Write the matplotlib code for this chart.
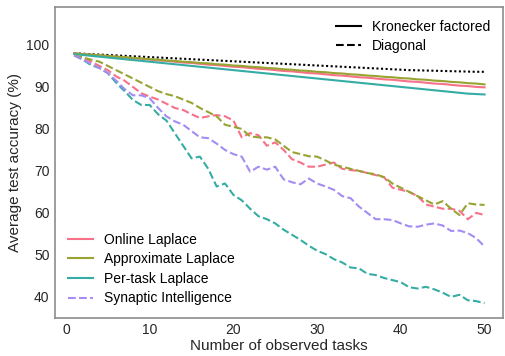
import matplotlib
matplotlib.use("Agg")
import matplotlib.pyplot as plt
from matplotlib.lines import Line2D

tasks = list(range(1, 51))

# Kronecker factored (solid)
online_kf = [98.0, 97.8, 97.7, 97.5, 97.3, 97.2, 97.0, 96.8, 96.7, 96.5,
             96.3, 96.2, 96.0, 95.8, 95.7, 95.5, 95.3, 95.2, 95.0, 94.8,
             94.7, 94.5, 94.3, 94.2, 94.0, 93.8, 93.7, 93.5, 93.3, 93.2,
             93.0, 92.8, 92.7, 92.5, 92.3, 92.2, 92.0, 91.8, 91.7, 91.5,
             91.3, 91.2, 91.0, 90.8, 90.7, 90.5, 90.3, 90.2, 90.0, 89.9]
approx_kf = [98.0, 97.8, 97.7, 97.5, 97.4, 97.2, 97.1, 96.9, 96.8, 96.6,
             96.5, 96.3, 96.2, 96.0, 95.9, 95.7, 95.6, 95.4, 95.3, 95.1,
             95.0, 94.8, 94.7, 94.5, 94.4, 94.2, 94.1, 93.9, 93.8, 93.6,
             93.5, 93.3, 93.2, 93.0, 92.9, 92.7, 92.6, 92.4, 92.3, 92.1,
             92.0, 91.8, 91.7, 91.5, 91.4, 91.2, 91.1, 90.9, 90.8, 90.6]
pertask_kf = [97.8, 97.6, 97.4, 97.2, 97.0, 96.8, 96.6, 96.4, 96.2, 96.0,
              95.8, 95.6, 95.4, 95.2, 95.0, 94.8, 94.6, 94.4, 94.2, 94.0,
              93.8, 93.6, 93.4, 93.2, 93.0, 92.8, 92.6, 92.4, 92.2, 92.0,
              91.8, 91.6, 91.4, 91.2, 91.0, 90.8, 90.6, 90.4, 90.2, 90.0,
              89.8, 89.6, 89.4, 89.2, 89.0, 88.8, 88.6, 88.4, 88.3, 88.2]
dotted_ref = [98.0, 97.9, 97.8, 97.7, 97.6, 97.5, 97.4, 97.3, 97.2, 97.1,
              97.0, 96.9, 96.8, 96.7, 96.6, 96.5, 96.4, 96.3, 96.2, 96.1,
              96.0, 95.9, 95.8, 95.7, 95.6, 95.5, 95.4, 95.3, 95.2, 95.1,
              95.0, 94.9, 94.8, 94.7, 94.6, 94.5, 94.4, 94.3, 94.2, 94.1,
              94.0, 93.95, 93.9, 93.85, 93.8, 93.75, 93.7, 93.65, 93.6, 93.6]

# Diagonal (dashed)
online_diag = [97.5, 97.0, 96.0, 95.0, 94.0, 92.5, 91.5, 90.0, 88.5, 87.7,
               87.0, 86.0, 85.0, 84.5, 83.5, 82.6, 83.0, 83.3, 83.0, 82.0,
               78.0, 79.0, 78.5, 76.0, 76.8, 75.0, 72.8, 72.0, 71.0, 71.0,
               71.5, 72.0, 70.5, 70.2, 70.0, 69.5, 69.0, 68.5, 66.0, 65.5,
               65.0, 64.0, 62.0, 61.5, 61.0, 61.0, 60.5, 58.5, 60.0, 59.5]
approx_diag = [97.5, 97.0, 96.5, 96.0, 95.0, 94.0, 93.0, 92.0, 91.0, 90.0,
               89.0, 88.3, 87.8, 87.0, 86.2, 85.0, 84.0, 83.0, 81.0, 80.5,
               80.0, 78.2, 78.0, 78.0, 77.5, 76.0, 74.5, 74.0, 73.5, 73.4,
               72.5, 71.5, 71.0, 70.5, 70.0, 69.5, 69.2, 68.5, 67.0, 66.0,
               65.0, 64.0, 63.0, 62.0, 62.8, 61.0, 59.5, 62.3, 62.0, 61.9]
pertask_diag = [97.5, 96.5, 95.2, 94.5, 93.3, 91.0, 89.0, 86.9, 85.7, 85.7,
                83.5, 82.0, 79.0, 76.0, 73.0, 73.4, 70.5, 66.3, 67.0, 64.3,
                63.0, 61.0, 59.2, 58.5, 57.5, 56.0, 54.8, 53.6, 52.2, 51.0,
                50.2, 49.0, 48.2, 47.0, 46.8, 45.5, 45.2, 44.5, 44.0, 43.5,
                42.3, 42.0, 42.4, 41.8, 41.0, 40.0, 40.5, 39.2, 39.0, 38.5]
synaptic = [97.5, 96.5, 95.5, 94.5, 93.3, 91.5, 89.5, 88.0, 88.0, 87.3,
            85.0, 83.0, 81.8, 81.0, 79.5, 78.0, 77.8, 76.5, 75.0, 74.0,
            73.4, 69.8, 71.0, 70.3, 71.0, 68.0, 67.3, 66.8, 68.2, 67.0,
            66.3, 65.5, 64.0, 63.5, 61.5, 60.0, 58.5, 58.5, 58.3, 57.5,
            56.8, 56.7, 57.2, 57.5, 57.0, 55.7, 55.8, 55.2, 54.0, 52.0]

colors = ['#f77189', '#97a431', '#36ada4', '#a48cf4']
method_names = ['Online Laplace', 'Approximate Laplace', 'Per-task Laplace',
                'Synaptic Intelligence']

plt.rcParams['font.family'] = ['Liberation Sans', 'DejaVu Sans']

fig = plt.figure(figsize=(5.05, 3.56), dpi=100)
ax = fig.add_axes([0.109, 0.107, 0.887, 0.873])

ax.plot(tasks, dotted_ref, color='black', linestyle=(0, (1, 1.2)), linewidth=1.5)
for vals, c in zip([online_kf, approx_kf, pertask_kf], colors[:3]):
    ax.plot(tasks, vals, color=c, linewidth=1.5)
for vals, c in zip([online_diag, approx_diag, pertask_diag, synaptic], colors):
    ax.plot(tasks, vals, color=c, linewidth=1.5, linestyle='--')

ax.set_xlim(-1.3, 52.2)
ax.set_ylim(35, 109)
ax.set_xticks([0, 10, 20, 30, 40, 50])
ax.set_yticks([40, 50, 60, 70, 80, 90, 100])
ax.tick_params(length=0, labelsize=10, colors='#262626', pad=4)
for s in ax.spines.values():
    s.set_color('#8c8c8c')
    s.set_linewidth(1.2)
ax.set_xlabel('Number of observed tasks', fontsize=11, color='#262626', labelpad=1)
ax.set_ylabel('Average test accuracy (%)', fontsize=11, color='#262626', labelpad=3)

leg_kw = dict(frameon=False, fontsize=10, handlelength=1.8, handletextpad=0.8,
              labelspacing=0.4)

style_handles = [Line2D([], [], color='black', linewidth=1.5),
                 Line2D([], [], color='black', linewidth=1.5, linestyle='--')]
leg1 = ax.legend(style_handles, ['Kronecker factored', 'Diagonal'],
                 loc='upper right', **leg_kw)
ax.add_artist(leg1)

method_handles = [Line2D([], [], color=colors[0], linewidth=1.5),
                  Line2D([], [], color=colors[1], linewidth=1.5),
                  Line2D([], [], color=colors[2], linewidth=1.5),
                  Line2D([], [], color=colors[3], linewidth=1.5, linestyle='--')]
ax.legend(method_handles, method_names, loc='lower left', **leg_kw)

fig.savefig('out.png', dpi=100)
